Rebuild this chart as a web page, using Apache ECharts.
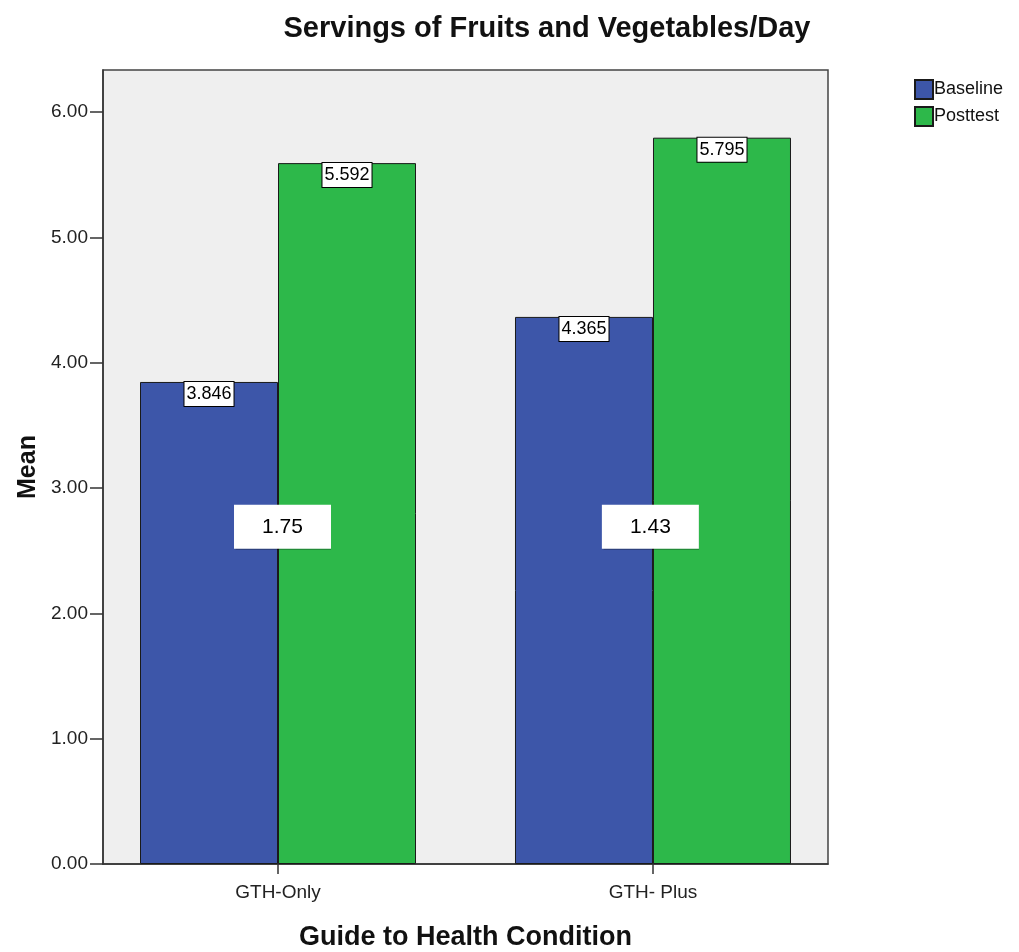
<!DOCTYPE html>
<html style="height: 100%">
<head>
    <meta charset="utf-8">
    <title>Servings of Fruits and Vegetables/Day</title>
</head>
<body style="height: 100%; margin: 0; background: #fff">
<div id="container" style="width: 1019px; height: 952px"></div>
<script type="text/javascript" src="https://cdn.jsdelivr.net/npm/echarts@6/dist/echarts.min.js"></script>
<script type="text/javascript">
    // data
    var categories = ['GTH-Only', 'GTH- Plus'];
    var baseline = [3.846, 4.365];
    var posttest = [5.592, 5.795];
    var diffLabels = ['1.75', '1.43'];
    var yTicks = [0, 1, 2, 3, 4, 5, 6];

    var font = 'Arial, "Liberation Sans", sans-serif';
    var half = 0.184; // half of a bar, in category units

    function pairs(vals, shift) {
        return vals.map(function (v, i) { return [i + shift, v]; });
    }

    var dom = document.getElementById("container");
    var myChart = echarts.init(dom);

    var barLabel = {
        show: true,
        position: 'insideTop',
        distance: 0,
        formatter: function (p) { return p.value[1].toFixed(3); },
        color: '#000',
        fontFamily: font,
        fontSize: 18,
        backgroundColor: '#fff',
        borderColor: '#000',
        borderWidth: 1,
        padding: [3, 2, 3, 2]
    };

    var option = {
        animation: false,
        title: {
            text: 'Servings of Fruits and Vegetables/Day',
            left: 542,
            top: 9,
            textAlign: 'center',
            textStyle: {fontFamily: font, fontSize: 29, fontWeight: 'bold', color: '#111'}
        },
        legend: {
            left: 909,
            top: 74,
            orient: 'vertical',
            itemWidth: 18,
            itemHeight: 19,
            itemGap: 6,
            icon: 'rect',
            textStyle: {fontFamily: font, fontSize: 18, color: '#111', padding: [0, 0, 0, -4]},
            data: ['Baseline', 'Posttest']
        },
        grid: {
            left: 103,
            right: 191,
            top: 70,
            bottom: 88,
            outerBoundsMode: 'none',
            show: true,
            backgroundColor: '#efefef',
            borderColor: '#444',
            borderWidth: 1.5
        },
        xAxis: {
            type: 'value',
            min: -0.4667,
            max: 1.4667,
            name: 'Guide to Health Condition',
            nameLocation: 'middle',
            nameGap: 60,
            nameTextStyle: {fontFamily: font, fontSize: 27, fontWeight: 'bold', color: '#111'},
            splitLine: {show: false},
            axisLine: {show: true, onZero: false, lineStyle: {color: '#333', width: 1.5}},
            axisTick: {show: true, length: 10, customValues: [0, 1], lineStyle: {color: '#333', width: 1.5}},
            axisLabel: {
                customValues: [0, 1],
                formatter: function (v) { return categories[Math.round(v)]; },
                fontFamily: font,
                fontSize: 19,
                color: '#222',
                margin: 19
            }
        },
        yAxis: {
            type: 'value',
            min: 0,
            max: 6.335,
            name: 'Mean',
            nameLocation: 'middle',
            nameGap: 59,
            nameTextStyle: {fontFamily: font, fontSize: 25, fontWeight: 'bold', color: '#111'},
            splitLine: {show: false},
            axisLine: {show: true, onZero: false, lineStyle: {color: '#333', width: 1.5}},
            axisTick: {show: true, length: 13, customValues: yTicks, lineStyle: {color: '#333', width: 1.5}},
            axisLabel: {
                customValues: yTicks,
                formatter: function (v) { return v.toFixed(2); },
                fontFamily: font,
                fontSize: 19,
                color: '#222',
                margin: 15
            }
        },
        series: [
            {
                name: 'Baseline',
                type: 'bar',
                barWidth: 138,
                barGap: '-100%',
                data: pairs(baseline, -half),
                itemStyle: {color: '#3d56a9', borderColor: '#1a1a1a', borderWidth: 1},
                label: barLabel
            },
            {
                name: 'Posttest',
                type: 'bar',
                barWidth: 138,
                barGap: '-100%',
                data: pairs(posttest, half),
                itemStyle: {color: '#2db84a', borderColor: '#1a1a1a', borderWidth: 1},
                label: barLabel,
                markPoint: {
                    symbol: 'rect',
                    symbolSize: [97, 44],
                    itemStyle: {color: '#fff', shadowColor: 'rgba(0,0,0,0.25)', shadowOffsetY: 1, shadowBlur: 1},
                    label: {show: true, position: 'inside', fontFamily: font, fontSize: 21, color: '#000',
                        formatter: function (p) { return p.name; }},
                    data: diffLabels.map(function (t, i) {
                        return {name: t, coord: [i + (i === 0 ? 0.012 : -0.007), 2.69]};
                    })
                }
            }
        ]
    };

    if (option && typeof option === "object") {
        myChart.setOption(option, true);
    }
</script>
</body>
</html>
